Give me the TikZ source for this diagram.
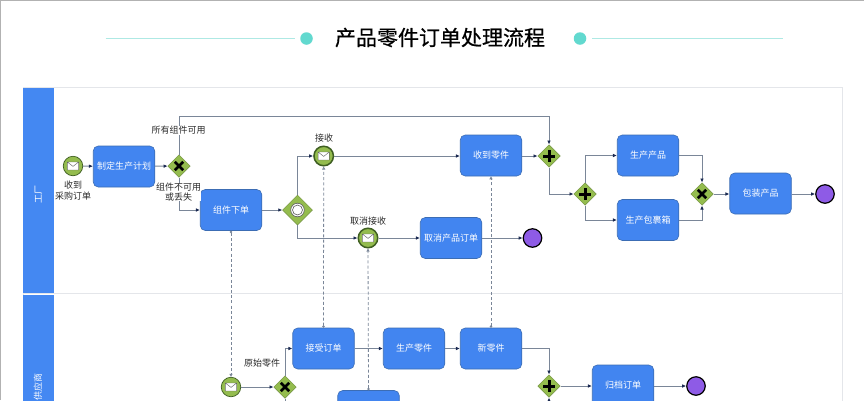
\documentclass[tikz,border=0pt]{standalone}
\usepackage{fontspec}
\setmainfont{Noto Sans CJK SC}
\newfontfamily\titlefont[FakeBold=0.6]{Noto Sans CJK SC}
\usetikzlibrary{shapes.geometric,arrows.meta}
\definecolor{laneblue}{HTML}{4488F2}
\definecolor{taskblue}{HTML}{4285F0}
\definecolor{taskline}{HTML}{3C6DB4}
\definecolor{gwgreen}{HTML}{94BC4E}
\definecolor{evline}{HTML}{3F5F22}
\definecolor{gwline}{HTML}{6E8F3A}
\definecolor{flowgray}{HTML}{7A8698}
\definecolor{headnavy}{HTML}{1B2A52}
\definecolor{endpurple}{HTML}{8E5BE6}
\definecolor{teal1}{HTML}{62D9CF}
\definecolor{teal2}{HTML}{AEE9E4}
\definecolor{framegray}{HTML}{E4E6EA}
\definecolor{labeltext}{HTML}{2A2A2A}
\tikzset{
  lanehead/.style={fill=laneblue,draw=none},
  laneframe/.style={draw=framegray,line width=.7pt},
  tasknode/.style={draw=taskline,fill=taskblue,rounded corners=5pt,line width=.6pt,
    minimum width=61.5pt,minimum height=41pt,inner sep=0pt,text=white,font=\fontsize{9}{11}\selectfont},
  gwbase/.style={diamond,aspect=1,draw=gwline,fill=gwgreen,line width=.5pt,inner sep=0pt,minimum size=#1},
  gwx/.style={gwbase=22.5pt,path picture={
    \draw[line width=2.8pt,black]
      ([shift={(-4.2,-4.2)}]path picture bounding box.center)--([shift={(4.2,4.2)}]path picture bounding box.center)
      ([shift={(-4.2,4.2)}]path picture bounding box.center)--([shift={(4.2,-4.2)}]path picture bounding box.center);}},
  gwplus/.style={gwbase=22.5pt,path picture={
    \draw[line width=3pt,black]
      ([shift={(-6,0)}]path picture bounding box.center)--([shift={(6,0)}]path picture bounding box.center)
      ([shift={(0,-6)}]path picture bounding box.center)--([shift={(0,6)}]path picture bounding box.center);}},
  gwevent/.style={gwbase=30pt,path picture={
    \draw[fill=white,draw=gray!70!black,line width=.6pt] (path picture bounding box.center) circle (6.8pt);
    \draw[fill=white,draw=gray!70!black,line width=.6pt] (path picture bounding box.center) circle (5pt);}},
  envelope/.style={path picture={
    \fill[white] ([shift={(-5.6,-4)}]path picture bounding box.center) rectangle ([shift={(5.6,4)}]path picture bounding box.center);
    \draw[gray!80!black,line width=.45pt] ([shift={(-5.6,-4)}]path picture bounding box.center) rectangle ([shift={(5.6,4)}]path picture bounding box.center)
      ([shift={(-5.6,-4)}]path picture bounding box.center)--([shift={(0,.4)}]path picture bounding box.center)--([shift={(5.6,-4)}]path picture bounding box.center);}},
  startev/.style={circle,draw=evline,fill=gwgreen,line width=.7pt,minimum size=19.5pt,inner sep=0pt,envelope},
  midev/.style={circle,draw=evline,fill=gwgreen,line width=1.5pt,minimum size=19.5pt,inner sep=0pt,envelope},
  endev/.style={circle,draw=black,fill=endpurple,line width=1.2pt,minimum size=18.5pt,inner sep=0pt},
  flow/.style={draw=flowgray,line width=1pt,-{Latex[length=4pt,width=3.6pt,color=headnavy]}},
  msgflow/.style={draw=flowgray,line width=.8pt,dash pattern=on 3pt off 2.2pt,
    {Circle[open,length=2.4pt,width=2.4pt,color=flowgray]}-{Triangle[open,length=3pt,width=3pt,color=flowgray]}},
  flowlabel/.style={text=labeltext,font=\fontsize{9}{10.5}\selectfont,align=center,inner sep=0pt},
  titlelabel/.style={text=black,font=\fontsize{21}{24}\titlefont,inner sep=0pt},
  lanelabel/.style={text=white,font=\fontsize{9}{11}\selectfont,rotate=90,inner sep=0pt},
}
\begin{document}
\begin{tikzpicture}[x=1pt,y=-1pt]
\clip (0,0) rectangle (864,400);
\fill[white] (0,0) rectangle (864,400);
\draw[gray!60,line width=1pt] (0.5,400)--(0.5,0.5)--(864,0.5);
% title
\node[titlelabel] (title) at (440,37.5) {产品零件订单处理流程};
\node[circle,fill=teal1,minimum size=12.5pt,inner sep=0pt] (dotl) at (306.5,38.5) {};
\node[circle,fill=teal1,minimum size=12.5pt,inner sep=0pt] (dotr) at (580,38.5) {};
\coordinate (ll) at (105.5,38.5);
\coordinate (lr) at (295,38.5);
\coordinate (rl) at (592,38.5);
\coordinate (rr) at (783,38.5);
\draw[teal2,line width=.9pt] (ll)--(lr);
\draw[teal2,line width=.9pt] (rl)--(rr);
% lanes
\draw[laneframe] (23,87.5) rectangle (842,420);
\draw[laneframe] (23,293.5)--(842,293.5);
\node[lanehead,minimum width=31pt,minimum height=205pt,inner sep=0pt] (lane1) at (38.5,190.5) {};
\node[lanehead,minimum width=31pt,minimum height=120pt,inner sep=0pt] (lane2) at (38.5,354.5) {};
\node[lanelabel] (lane1t) at (38.5,194) {工厂};
\node[lanelabel] (lane2t) at (38,387) {供应商};
% top nodes
\node[startev] (s1) at (73,166) {};
\node[tasknode] (plan) at (124,166.5) {制定生产计划};
\node[gwx] (g1) at (179,166) {};
\node[tasknode] (order) at (231,210) {组件下单};
\node[gwevent] (eg) at (297.5,210) {};
\node[midev] (recv) at (323.7,156) {};
\node[midev] (cancelrecv) at (368,238) {};
\node[tasknode] (got) at (491,155.5) {收到零件};
\node[tasknode] (cancelorder) at (451,238) {取消产品订单};
\node[endev] (end1) at (532.5,238) {};
\node[gwplus] (p1) at (549,156) {};
\node[gwplus] (p2) at (585,194) {};
\node[tasknode] (prod) at (648,155.5) {生产产品};
\node[tasknode] (pack) at (648,220) {生产包裹箱};
\node[gwx] (g2) at (702,194) {};
\node[tasknode] (wrap) at (760.5,193.5) {包装产品};
\node[endev] (end2) at (825,194) {};
% bottom nodes
\node[startev] (s2) at (231,387) {};
\node[gwx] (g3) at (285,387) {};
\node[tasknode] (accept) at (323.5,348.5) {接受订单};
\node[tasknode] (make) at (414,348.5) {生产零件};
\node[tasknode] (newp) at (491,348.5) {新零件};
\node[gwplus] (p3) at (549,386) {};
\node[tasknode] (archive) at (623,385.5) {归档订单};
\node[endev] (end3) at (696,386) {};
\node[tasknode] (low) at (368.5,411) {};
% flows
\coordinate (over) at (179,116.5);
\draw[flow] (s1)--(plan);
\draw[flow] (plan)--(g1);
\draw[flow] (g1.north)--(over)-|(p1.north);
\draw[flow] (g1.south)|-(order.west);
\draw[flow] (order)--(eg);
\draw[flow] (eg.north)|-(recv.west);
\draw[flow] (eg.south)|-(cancelrecv.west);
\draw[flow] (recv.east)--(got.west|-recv.east);
\draw[flow] (cancelrecv)--(cancelorder);
\draw[flow] (cancelorder)--(end1);
\draw[flow] (got.east|-p1.west)--(p1.west);
\draw[flow] (p1.south)|-(p2.west);
\draw[flow] (p2.north)|-(prod.west);
\draw[flow] (p2.south)|-(pack.west);
\draw[flow] (prod.east)-|(g2.north);
\draw[flow] (pack.east)-|(g2.south);
\draw[flow] (g2.east)--(wrap.west|-g2.east);
\draw[flow] (wrap.east|-end2.west)--(end2.west);
\draw[flow] (s2)--(g3);
\draw[flow] (g3.north)|-(accept.west);
\draw[flow] (accept)--(make);
\draw[flow] (make)--(newp);
\draw[flow] (newp.east)-|(p3.north);
\draw[flow] (p3.east)--(archive.west|-p3.east);
\draw[flow] (archive.east|-end3.west)--(end3.west);
\draw[flow] (g3.south)|-(low.west);
\draw[flow] (low.east)-|(p3.south);
% message flows
\draw[msgflow] (order.south)--(s2.north);
\draw[msgflow] (accept.north)--(recv.south);
\draw[msgflow] (low.north)--(cancelrecv.south);
\draw[msgflow] (newp.north)--(got.south);
% labels
\node[flowlabel] (l1) at (73,190.5) {收到\\采购订单};
\node[flowlabel,fill=white] (l2) at (178.5,130.5) {所有组件可用};
\node[flowlabel,fill=white] (l3) at (178.5,192) {组件不可用\\或丢失};
\node[flowlabel] (l4) at (324,138.5) {接收};
\node[flowlabel] (l5) at (368,221) {取消接收};
\node[flowlabel] (l6) at (262,363) {原始零件};
\end{tikzpicture}
\end{document}
